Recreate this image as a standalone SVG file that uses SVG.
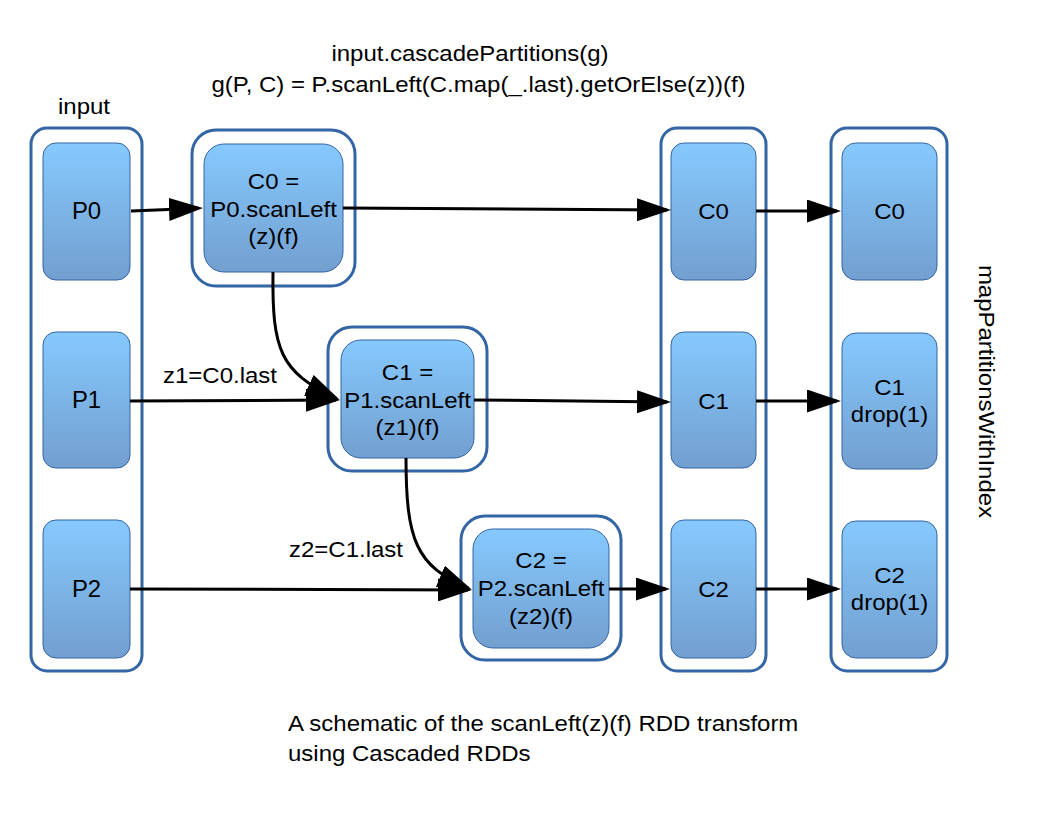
<svg xmlns="http://www.w3.org/2000/svg" width="1056" height="816" viewBox="0 0 1056 816">
<defs>
<linearGradient id="g" x1="0" y1="0" x2="0" y2="1">
<stop offset="0" stop-color="#86c9fe"/>
<stop offset="1" stop-color="#729fcf"/>
</linearGradient>
<marker id="ah" markerUnits="userSpaceOnUse" markerWidth="34" markerHeight="23" viewBox="0 0 34 23" refX="30" refY="11.5" orient="auto">
<path d="M0,0 L34,11.5 L0,23 Z" fill="#000"/>
</marker>
</defs>
<style>
.outer{fill:#fff;stroke:#3465a4;stroke-width:3}
.box{fill:url(#g);stroke:#3465a4;stroke-width:1}
.t{font-family:"Liberation Sans",Arial,sans-serif;font-size:21.5px;fill:#000;text-anchor:middle}
.s{text-anchor:start}
.p{font-size:23px}
.conn{fill:none;stroke:#000;stroke-width:3;marker-end:url(#ah)}
</style>
<rect width="1056" height="816" fill="#fff"/>

<g id="titles">
<text class="t" transform="translate(470,61) scale(1.116,1)">input.cascadePartitions(g)</text>
<text class="t" transform="translate(478.5,92) scale(1.116,1)">g(P, C) = P.scanLeft(C.map(_.last).getOrElse(z))(f)</text>
<text class="t s" transform="translate(288,731) scale(1.116,1)">A schematic of the scanLeft(z)(f) RDD transform</text>
<text class="t s" transform="translate(288,761) scale(1.116,1)">using Cascaded RDDs</text>
</g>

<g id="input-rdd">
<rect class="outer" x="31" y="128" width="111" height="543" rx="16"/>
<text class="t" transform="translate(84,114) scale(1.116,1)">input</text>
</g>
<g id="P0"><rect class="box" x="43" y="143" width="87" height="137" rx="13"/><text class="t p" transform="translate(86.5,219) scale(1.04,1)">P0</text></g>
<g id="P1"><rect class="box" x="43" y="332" width="87" height="136" rx="13"/><text class="t p" transform="translate(86.5,408) scale(1.04,1)">P1</text></g>
<g id="P2"><rect class="box" x="43" y="520" width="87" height="138" rx="13"/><text class="t p" transform="translate(86.5,597) scale(1.04,1)">P2</text></g>

<g id="C0-calc">
<rect class="outer" x="192" y="130" width="163" height="156" rx="24"/>
<rect class="box" x="204" y="144" width="139" height="128" rx="20"/>
<text class="t" transform="translate(273.5,189) scale(1.116,1)">C0 =</text>
<text class="t" transform="translate(273.5,216.5) scale(1.116,1)">P0.scanLeft</text>
<text class="t" transform="translate(273.5,243.5) scale(1.116,1)">(z)(f)</text>
</g>
<g id="C1-calc">
<rect class="outer" x="328" y="327" width="159" height="144" rx="24"/>
<rect class="box" x="341" y="340" width="133" height="118" rx="20"/>
<text class="t" transform="translate(407.5,380) scale(1.116,1)">C1 =</text>
<text class="t" transform="translate(407.5,407.5) scale(1.116,1)">P1.scanLeft</text>
<text class="t" transform="translate(407.5,434.5) scale(1.116,1)">(z1)(f)</text>
</g>
<g id="C2-calc">
<rect class="outer" x="461" y="516" width="160" height="144" rx="24"/>
<rect class="box" x="473" y="529" width="136" height="119" rx="20"/>
<text class="t" transform="translate(541,568) scale(1.116,1)">C2 =</text>
<text class="t" transform="translate(541,596) scale(1.116,1)">P2.scanLeft</text>
<text class="t" transform="translate(541,624) scale(1.116,1)">(z2)(f)</text>
</g>

<g id="cascaded-rdd"><rect class="outer" x="661" y="128" width="105" height="543" rx="16"/></g>
<g id="Cc0"><rect class="box" x="671" y="143" width="85" height="137" rx="13"/><text class="t" transform="translate(713.5,218.5) scale(1.116,1)">C0</text></g>
<g id="Cc1"><rect class="box" x="671" y="332" width="85" height="136" rx="13"/><text class="t" transform="translate(713.5,408.5) scale(1.116,1)">C1</text></g>
<g id="Cc2"><rect class="box" x="671" y="520" width="85" height="138" rx="13"/><text class="t" transform="translate(713.5,596.5) scale(1.116,1)">C2</text></g>

<g id="result-rdd">
<rect class="outer" x="831" y="128" width="116" height="543" rx="16"/>
<text class="t" transform="translate(979,391.5) rotate(90) scale(1.116,1)">mapPartitionsWithIndex</text>
</g>
<g id="R0"><rect class="box" x="842" y="143" width="95" height="137" rx="14"/><text class="t" transform="translate(889.5,218.5) scale(1.116,1)">C0</text></g>
<g id="R1"><rect class="box" x="842" y="333" width="95" height="136" rx="14"/><text class="t" transform="translate(889.5,395) scale(1.116,1)">C1</text><text class="t" transform="translate(889.5,422) scale(1.116,1)">drop(1)</text></g>
<g id="R2"><rect class="box" x="842" y="521" width="95" height="137" rx="14"/><text class="t" transform="translate(889.5,583) scale(1.116,1)">C2</text><text class="t" transform="translate(889.5,610) scale(1.116,1)">drop(1)</text></g>

<g id="connectors">
<path class="conn" d="M131,211 L199,208.2"/>
<path class="conn" d="M343,208 L667,210"/>
<path class="conn" d="M756,211 L837,211"/>
<path class="conn" d="M130,401 L336,400"/>
<path class="conn" d="M474,400 L667,402"/>
<path class="conn" d="M756,401 L837,401"/>
<path class="conn" d="M130,589 L468,590"/>
<path class="conn" d="M609,589 L666,589"/>
<path class="conn" d="M756,589 L837,589"/>
<path class="conn" d="M273,272 C272,350 280,372 336,398"/>
<path class="conn" d="M406,458 C406,540 416,566 468,588"/>
<text class="t" transform="translate(220,382.5) scale(1.116,1)">z1=C0.last</text>
<text class="t" transform="translate(346,556.5) scale(1.116,1)">z2=C1.last</text>
</g>
</svg>
